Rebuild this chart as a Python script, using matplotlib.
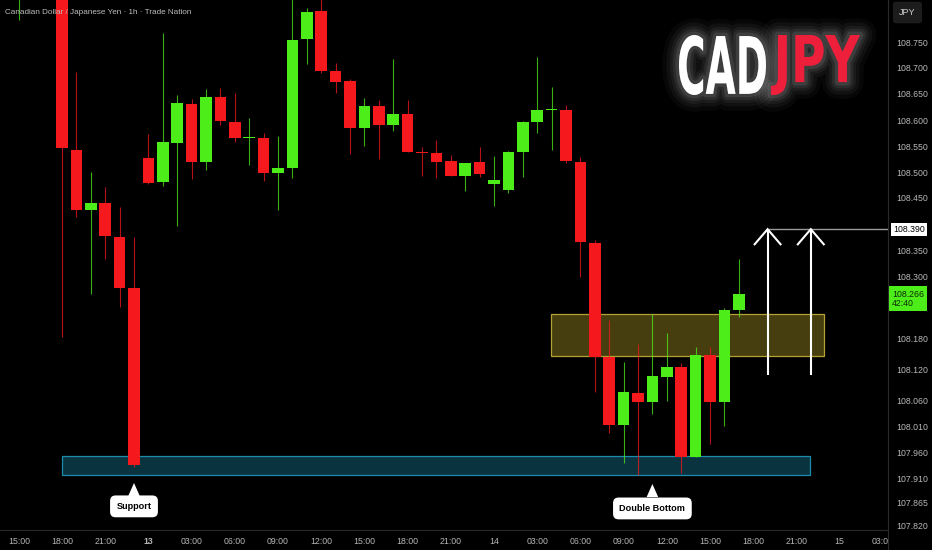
import matplotlib
matplotlib.use("Agg")
import matplotlib.pyplot as plt
import numpy as np
from matplotlib.patches import Rectangle, Polygon, PathPatch
from matplotlib.textpath import TextPath
from matplotlib.font_manager import FontProperties
from matplotlib.transforms import Affine2D, blended_transform_factory
import matplotlib.patheffects as pe

# ---------------- data (CADJPY 1h) ----------------
bar_index = list(range(-3, 48))
opens = [108.900, 108.930, 108.960, 108.950, 108.542, 108.427, 108.440, 108.375, 108.277,
         108.527, 108.481, 108.556, 108.631, 108.519, 108.644, 108.596, 108.565, 108.565,
         108.498, 108.508, 108.756, 108.810, 108.694, 108.675, 108.585, 108.627, 108.590,
         108.612, 108.538, 108.537, 108.521, 108.492, 108.519, 108.477, 108.465, 108.538,
         108.596, 108.619, 108.619, 108.519, 108.363, 108.144, 108.013, 108.075, 108.058,
         108.106, 108.125, 107.952, 108.148, 108.058, 108.235]
highs = [108.950, 108.980, 109.000, 108.970, 108.692, 108.500, 108.471, 108.433, 108.375,
         108.573, 108.767, 108.648, 108.640, 108.660, 108.662, 108.652, 108.604, 108.575,
         108.569, 108.850, 108.815, 108.840, 108.710, 108.679, 108.642, 108.638, 108.717,
         108.638, 108.548, 108.562, 108.533, 108.517, 108.548, 108.531, 108.540, 108.598,
         108.721, 108.663, 108.629, 108.529, 108.369, 108.215, 108.135, 108.169, 108.227,
         108.190, 108.133, 108.163, 108.163, 108.238, 108.333]
lows = [108.792, 108.880, 108.900, 108.183, 108.413, 108.265, 108.333, 108.240, 107.933,
        108.477, 108.473, 108.396, 108.487, 108.504, 108.590, 108.558, 108.513, 108.483,
        108.427, 108.488, 108.708, 108.690, 108.652, 108.535, 108.550, 108.525, 108.579,
        108.538, 108.492, 108.488, 108.492, 108.463, 108.490, 108.435, 108.460, 108.490,
        108.575, 108.542, 108.517, 108.298, 108.077, 107.998, 107.940, 107.917, 108.035,
        108.060, 107.921, 107.952, 107.977, 108.012, 108.221]
closes = [108.930, 108.960, 108.950, 108.546, 108.427, 108.440, 108.377, 108.277, 107.937,
          108.479, 108.558, 108.633, 108.519, 108.644, 108.598, 108.565, 108.567, 108.498,
          108.508, 108.754, 108.808, 108.694, 108.673, 108.585, 108.627, 108.590, 108.612,
          108.538, 108.537, 108.519, 108.492, 108.517, 108.496, 108.485, 108.538, 108.596,
          108.619, 108.621, 108.521, 108.365, 108.144, 108.013, 108.077, 108.058, 108.108,
          108.125, 107.952, 108.148, 108.058, 108.235, 108.266]

# time axis labels (bar index of each label)
time_label_pos = [-3, 0, 3, 6, 9, 12, 15, 18, 21, 24, 27, 30, 33, 36, 39, 42, 45, 48, 51, 54, 57]
time_labels = ["15:00", "18:00", "21:00", "13", "03:00", "06:00", "09:00", "12:00", "15:00",
               "18:00", "21:00", "14", "03:00", "06:00", "09:00", "12:00", "15:00", "18:00",
               "21:00", "15", "03:00"]
bold_labels = ["13"]

price_ticks = [108.750, 108.700, 108.650, 108.600, 108.550, 108.500, 108.450,
               108.350, 108.300, 108.180, 108.120, 108.060, 108.010, 107.960,
               107.910, 107.865, 107.820]

# annotation levels
support_zone = (0, 51.94, 107.917, 107.954)      # x0, x1, y0, y1
resist_zone = (33.96, 52.9, 108.146, 108.227)
target_price = 108.390
target_start = 49
arrow_x = [49, 52]
arrow_base = 108.110
head_dx, head_dy = 0.9, 0.029
support_bar, support_label_y, support_tip_y = 5, 107.857, 107.902
dbl_bar, dbl_label_y, dbl_tip_y = 41, 107.853, 107.900
countdown = "42:40"

# ---------------- styling ----------------
W, H = 932, 550
RED = "#f5181c"
GREEN = "#4ded1a"
GREY = "#b7b7b7"
plt.rcParams["font.family"] = ["Liberation Sans", "DejaVu Sans"]

fig = plt.figure(figsize=(W / 100, H / 100), dpi=100, facecolor="black")
ax = fig.add_axes([0, 0, 888 / W, 1])
ax.set_facecolor("black")

# pixel mapping: y=42 -> 108.75, 520 px per 1.0
ymax = 108.75 + 42 / 520
ymin = 108.75 - (550 - 42) / 520
ax.set_ylim(ymin, ymax)
xmin = -62 / 14.4
xmax = (888 - 62) / 14.4
ax.set_xlim(xmin, xmax)

# zones (under candles)
sx0, sx1, sy0, sy1 = support_zone
ax.add_patch(Rectangle((sx0, sy0), sx1 - sx0, sy1 - sy0, facecolor="#0a3340",
                       edgecolor="#1b8cab", lw=0.9, zorder=1))
rx0, rx1, ry0, ry1 = resist_zone
ax.add_patch(Rectangle((rx0, ry0), rx1 - rx0, ry1 - ry0, facecolor="#463e0f",
                       edgecolor="#b3a232", lw=0.9, zorder=1))

# candles
x = np.array(bar_index, dtype=float)
o = np.array(opens); h = np.array(highs); l = np.array(lows); c = np.array(closes)
up = c >= o
cols = np.where(up, GREEN, RED)
ax.vlines(x, l, h, colors=cols, lw=0.8, alpha=0.75, zorder=2)
body_bottom = np.minimum(o, c)
body_h = np.maximum(np.abs(c - o), 0.0018)
ax.bar(x, body_h, bottom=body_bottom, width=0.8, color=cols, linewidth=0, zorder=3)

# target line and arrows
ax.hlines(target_price, target_start, xmax, colors="#9a9a9a", lw=1.0, zorder=4)
for ax_x in arrow_x:
    ax.plot([ax_x, ax_x], [arrow_base, target_price], color="white", lw=1.5, zorder=5,
            solid_capstyle="butt")
    ax.plot([ax_x - head_dx, ax_x, ax_x + head_dx],
            [target_price - head_dy, target_price, target_price - head_dy],
            color="white", lw=1.5, zorder=5, solid_joinstyle="miter")

# callout labels
def callout(bar, ytext, ytip, text):
    ax.text(bar, ytext, text, ha="center", va="center", fontsize=6.6, fontweight="bold",
            color="black", zorder=7,
            bbox=dict(boxstyle="round,pad=0.7,rounding_size=0.6", fc="white", ec="none"))
    ax.add_patch(Polygon([[bar, ytip], [bar - 0.4, ytip - 0.025], [bar + 0.4, ytip - 0.025]],
                         closed=True, facecolor="white", edgecolor="none", zorder=7))

callout(support_bar, support_label_y, support_tip_y, "Support")
callout(dbl_bar, dbl_label_y, dbl_tip_y, "Double Bottom")

# axes cosmetics
for side in ["top", "left", "bottom"]:
    ax.spines[side].set_visible(False)
ax.spines["right"].set_color("#2a2a2a")
ax.spines["right"].set_linewidth(0.8)
ax.axhline(ymin + (ymax - ymin) * 20 / 550, color="#2a2a2a", lw=0.8, zorder=1)
ax.set_xticks([])
ax.yaxis.tick_right()
ax.set_yticks(price_ticks)
ax.set_yticklabels([f"{v:.3f}" for v in price_ticks])
ax.tick_params(axis="y", length=0, pad=5.8, labelsize=6.3, labelcolor=GREY)

# time labels inside the bottom strip (clipped at the price scale)
tb = blended_transform_factory(ax.transData, ax.transAxes)
for pos, lab in zip(time_label_pos, time_labels):
    ax.text(pos, 9 / 550, lab, transform=tb, ha="center", va="center", fontsize=6.3,
            color=GREY, fontweight="bold" if lab in bold_labels else "normal",
            clip_on=True, zorder=6)

# price scale labels
yb = blended_transform_factory(ax.transAxes, ax.transData)
ax.annotate(f"{target_price:.3f}", xy=(1.0, target_price), xycoords=yb,
            xytext=(5, 0), textcoords="offset pixels", ha="left", va="center",
            fontsize=6.3, color="black", annotation_clip=False, zorder=8,
            bbox=dict(boxstyle="square,pad=0.25", fc="white", ec="none"))
ax.annotate(f"{closes[-1]:.3f}\n{countdown}", xy=(1.0, closes[-1]), xycoords=yb,
            xytext=(4, -5), textcoords="offset pixels", ha="left", va="center",
            fontsize=6.3, color="#0b2a06", annotation_clip=False, zorder=8, linespacing=1.05,
            bbox=dict(boxstyle="square,pad=0.35", fc=GREEN, ec="none"))

# header text and currency box
fig.text(5 / W, 1 - 12 / H, "Canadian Dollar / Japanese Yen · 1h · Trade Nation",
         fontsize=5.9, color="#bdbdbd", ha="left", va="center")
fig.text(907.5 / W, 1 - 12.5 / H, "JPY", fontsize=6.5, color="#d0d0d0", ha="center", va="center",
         bbox=dict(boxstyle="round,pad=0.7,rounding_size=0.35", fc="#1c1c1c", ec="none"))

# CADJPY logo with glow
fp = FontProperties(family="DejaVu Sans", weight="bold")
glow = [pe.Stroke(linewidth=w, foreground="#dddddd", alpha=a, joinstyle="round",
                  capstyle="round")
        for w, a in [(24, 0.035), (18, 0.05), (13, 0.06), (9, 0.08), (5, 0.11)]] + [pe.Normal()]

def logo_word(word, color, x0, x1, ytop, ybot):
    tp = TextPath((0, 0), word, size=100, prop=fp)
    bb = tp.get_extents()
    sxs = (x1 - x0) / bb.width
    sys_ = (ybot - ytop) / bb.height
    tr = (Affine2D().translate(-bb.x0, -bb.y0).scale(sxs, sys_)
          .translate(x0, H - ybot).scale(1 / W, 1 / H) + fig.transFigure)
    p = PathPatch(tp, facecolor=color, edgecolor="none", transform=tr, path_effects=glow)
    fig.add_artist(p)

logo_word("CAD", "white", 679, 766, 35, 95)
logo_word("JPY", "#ee1f3b", 771, 860, 35, 95)

fig.savefig("out.png", dpi=100, facecolor="black")
